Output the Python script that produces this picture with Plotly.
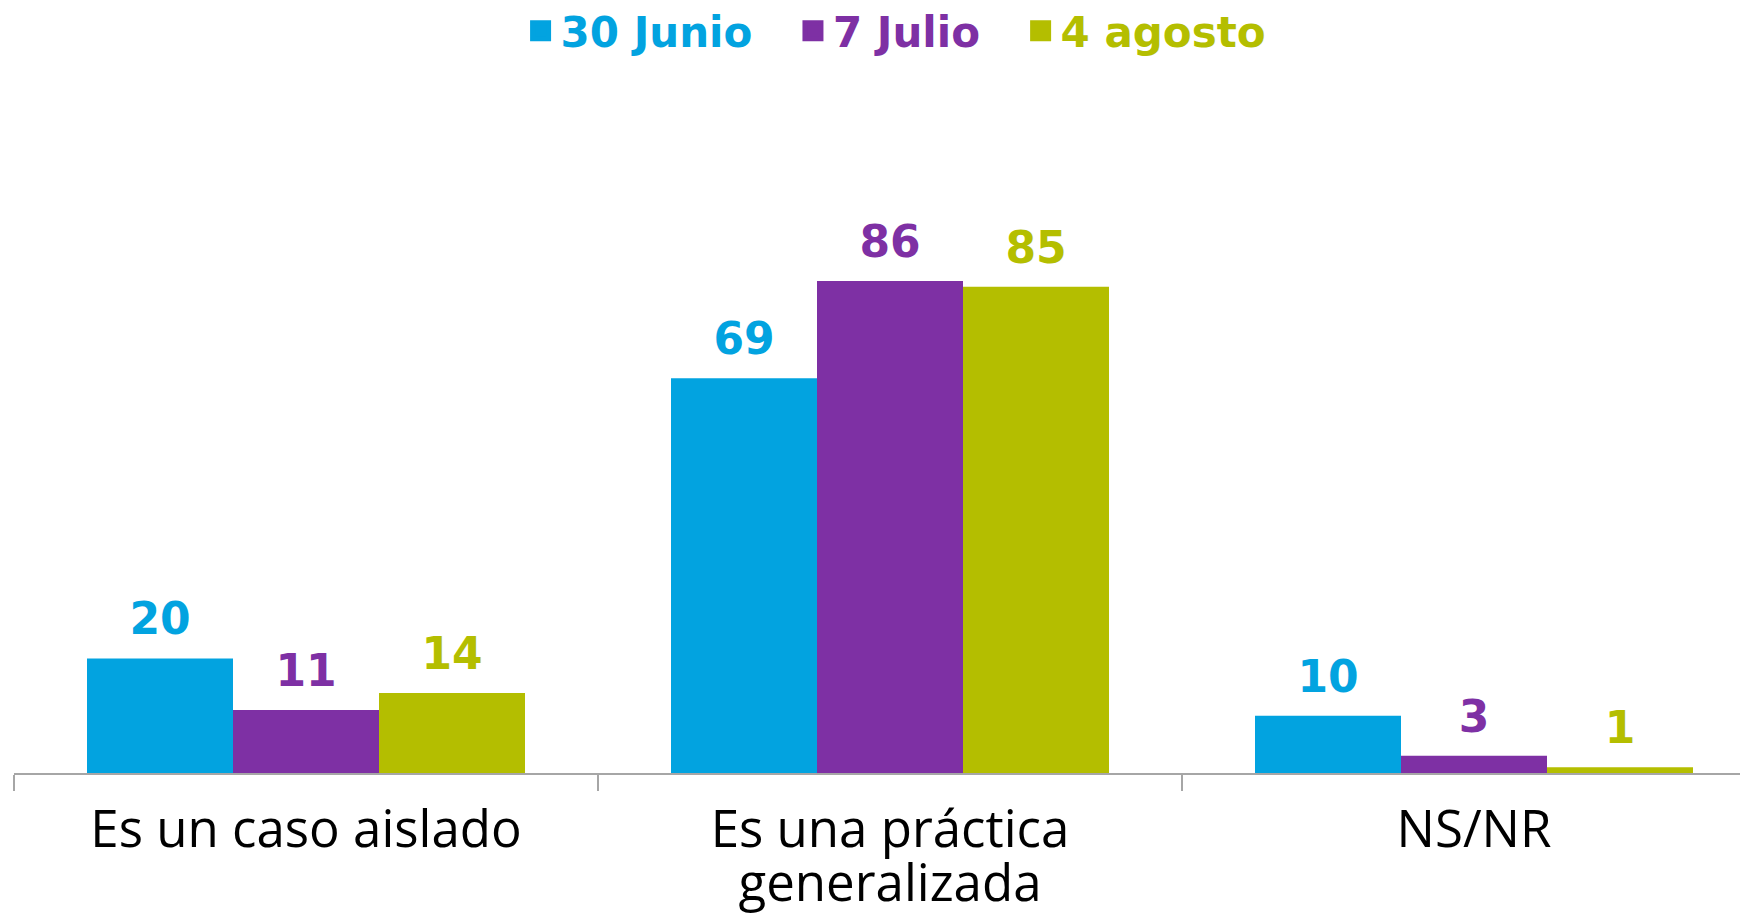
import plotly.graph_objects as go

categories = ["Es un caso aislado", "Es una práctica<br>generalizada", "NS/NR"]
series_names = ["30 Junio", "7 Julio", "4 agosto"]
values_30_junio = [20, 69, 10]
values_7_julio = [11, 86, 3]
values_4_agosto = [14, 85, 1]
colors = ["#02A3E0", "#7E30A4", "#B4BE00"]

series_values = [values_30_junio, values_7_julio, values_4_agosto]

LABEL_FONT = "DejaVu Sans, Open Sans, sans-serif"
CAT_FONT = "Open Sans, Noto Sans, DejaVu Sans, sans-serif"
GAP = "\u00a0\u2002"


def big(line, px):
    return f"<span style='font-size:{px}px'>{line}</span>"


cat_ticktext = ["<br>".join(big(p, 51) for p in c.split("<br>")) for c in categories]

fig = go.Figure()
for name, vals, col in zip(series_names, series_values, colors):
    fig.add_trace(go.Bar(
        x=categories, y=vals, name=name,
        marker=dict(color=col, line=dict(width=0)),
        text=[big(str(v), 44) + "<br>\u00a0" for v in vals],
        textposition="outside",
        textfont=dict(family=LABEL_FONT, size=14, color=col, weight="bold"),
        constraintext="none",
        cliponaxis=False,
        showlegend=False,
    ))

# legend proxies (square swatches, coloured text)
for i, (name, col) in enumerate(zip(series_names, colors)):
    tail = GAP if i < len(series_names) - 1 else ""
    fig.add_trace(go.Scatter(
        x=[None], y=[None], mode="markers",
        name=f"<span style='color:{col}'>{name}</span>{tail}",
        marker=dict(symbol="square", size=16, color=col,
                    line=dict(color=col, width=5)),
        showlegend=True, hoverinfo="skip",
    ))

fig.update_layout(
    width=1740, height=911,
    margin=dict(l=6, r=0, t=92, b=146, autoexpand=False),
    paper_bgcolor="white", plot_bgcolor="white",
    barmode="group", bargap=0.25, bargroupgap=0,
    font=dict(family=CAT_FONT, color="#000000"),
    legend=dict(
        orientation="h", x=0.5087, xanchor="center",
        y=1.1025, yanchor="middle",
        font=dict(family=LABEL_FONT, size=42, weight="bold"),
        bgcolor="rgba(0,0,0,0)", borderwidth=0,
        traceorder="normal",
    ),
    xaxis=dict(
        type="category", automargin=False,
        range=[-0.5, -0.5 + 1734 / 584],
        tickmode="array", tickvals=categories, ticktext=cat_ticktext,
        showline=True, linecolor="#A6A6A6", linewidth=2,
        ticks="outside", tickson="boundaries", ticklen=16,
        tickcolor="#A6A6A6", tickwidth=2,
        tickfont=dict(family=CAT_FONT, size=41, color="#000000"),
        ticklabelstandoff=23,
        showgrid=False, zeroline=False,
    ),
    yaxis=dict(
        range=[0, 673 / 5.72], visible=False, automargin=False,
        showgrid=False, zeroline=False,
    ),
)

fig.write_html("out.html")
